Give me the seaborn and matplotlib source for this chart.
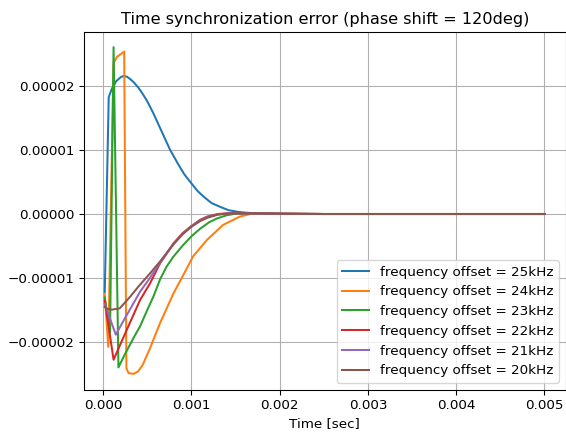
import numpy as np
import pandas as pd
import matplotlib
matplotlib.use("Agg")
import matplotlib.pyplot as plt
import seaborn as sns
from matplotlib.ticker import FuncFormatter, MultipleLocator

labels = ["frequency offset = 25kHz", "frequency offset = 24kHz",
          "frequency offset = 23kHz", "frequency offset = 22kHz",
          "frequency offset = 21kHz", "frequency offset = 20kHz"]

tail_t = [2.5, 3.0, 3.5, 4.0, 4.5, 5.0]
tail_v = [0.0, 0.0, 0.0, 0.0, 0.0, 0.0]

# times in ms, values in units of 1e-5
t25 = [0.02, 0.065, 0.10, 0.15, 0.20, 0.23, 0.27, 0.31, 0.35, 0.40, 0.45, 0.50, 0.57, 0.65,
       0.76, 0.85, 0.92, 1.00, 1.07, 1.14, 1.23, 1.33, 1.42, 1.52, 1.62, 1.75, 1.90, 2.0]
v25 = [-1.22, 1.82, 1.95, 2.07, 2.13, 2.15, 2.14, 2.10, 2.05, 1.97, 1.87, 1.76, 1.57, 1.33,
       1.00, 0.78, 0.62, 0.48, 0.36, 0.27, 0.17, 0.11, 0.06, 0.035, 0.02, 0.01, 0.005, 0.0]

t24 = [0.02, 0.06, 0.12, 0.16, 0.24, 0.265, 0.29, 0.35, 0.40, 0.45, 0.533, 0.646, 0.797,
       0.91, 1.02, 1.18, 1.36, 1.55, 1.67, 1.80, 2.0]
v24 = [-1.25, -2.07, 2.35, 2.45, 2.53, -2.40, -2.48, -2.49, -2.45, -2.35, -2.09, -1.70, -1.24,
       -0.95, -0.66, -0.40, -0.17, -0.04, 0.0, 0.01, 0.005]

t23 = [0.02, 0.08, 0.12, 0.175, 0.25, 0.35, 0.42, 0.50, 0.57, 0.646, 0.72, 0.80, 0.91,
       1.00, 1.10, 1.20, 1.29, 1.40, 1.48, 1.60, 1.80, 2.0]
v23 = [-1.30, -1.85, 2.60, -2.39, -2.18, -1.92, -1.75, -1.50, -1.29, -1.02, -0.82, -0.66, -0.48,
       -0.35, -0.23, -0.13, -0.07, -0.02, 0.0, 0.01, 0.01, 0.005]

t22 = [0.02, 0.12, 0.20, 0.30, 0.42, 0.533, 0.646, 0.797, 0.90, 0.99, 1.10, 1.18, 1.30,
       1.45, 1.70, 2.0]
v22 = [-1.35, -2.27, -2.02, -1.71, -1.34, -1.08, -0.77, -0.46, -0.30, -0.20, -0.09, -0.04, 0.0,
       0.015, 0.01, 0.005]

t21 = [0.02, 0.145, 0.25, 0.35, 0.42, 0.53, 0.646, 0.80, 0.90, 0.99, 1.10, 1.18, 1.30,
       1.45, 1.70, 2.0]
v21 = [-1.40, -1.88, -1.62, -1.38, -1.21, -1.00, -0.76, -0.46, -0.31, -0.20, -0.10, -0.05, -0.005,
       0.012, 0.01, 0.005]

t20 = [0.02, 0.05, 0.10, 0.19, 0.30, 0.42, 0.53, 0.646, 0.80, 0.90, 0.99, 1.10, 1.18, 1.30,
       1.45, 1.70, 2.0]
v20 = [-1.45, -1.48, -1.49, -1.47, -1.30, -1.10, -0.93, -0.74, -0.47, -0.32, -0.21, -0.11, -0.06,
       -0.01, 0.01, 0.01, 0.005]

series = [(t25, v25), (t24, v24), (t23, v23), (t22, v22), (t21, v21), (t20, v20)]
frames = []
for lab, (t, v) in zip(labels, series):
    tt = np.array(list(t) + tail_t) * 1e-3
    vv = np.array(list(v) + tail_v) * 1e-5
    frames.append(pd.DataFrame({"time": tt, "err": vv, "offset": lab}))
df = pd.concat(frames, ignore_index=True)

W, H = 566, 433
DPI = 97
fig = plt.figure(figsize=(W / DPI, H / DPI), dpi=DPI)
ax = fig.add_axes([84 / W, 1 - 389.5 / H, (565.5 - 84) / W, (389.5 - 31.7) / H])

sns.lineplot(data=df, x="time", y="err", hue="offset", hue_order=labels,
             palette="tab10", sort=False, estimator=None, linewidth=1.5, ax=ax)

ax.set_xlim(-0.000215, 0.005238)
ax.set_ylim(-2.734e-5, 2.84e-5)
ax.xaxis.set_major_locator(MultipleLocator(0.001))
ax.yaxis.set_major_locator(MultipleLocator(1e-5))
ax.xaxis.set_major_formatter(FuncFormatter(lambda x, p: f"{x:.3f}".replace("-", "\u2212")))
ax.yaxis.set_major_formatter(FuncFormatter(
    lambda y, p: ("0.00000" if abs(y) < 1e-12 else f"{y:.5f}").replace("-", "\u2212")))
ax.tick_params(labelsize=10, length=3.5, width=0.8, pad=3.5)
ax.grid(True, color="#b0b0b0", linewidth=0.8)
ax.set_axisbelow(True)
for s in ax.spines.values():
    s.set_linewidth(0.8)
ax.set_xlabel("Time [sec]", fontsize=10)
ax.set_ylabel("")
ax.set_title("Time synchronization error (phase shift = 120deg)", fontsize=12)
sns.move_legend(ax, "lower right", title=None, fontsize=10, frameon=True)

fig.savefig("out.png", dpi=DPI)
